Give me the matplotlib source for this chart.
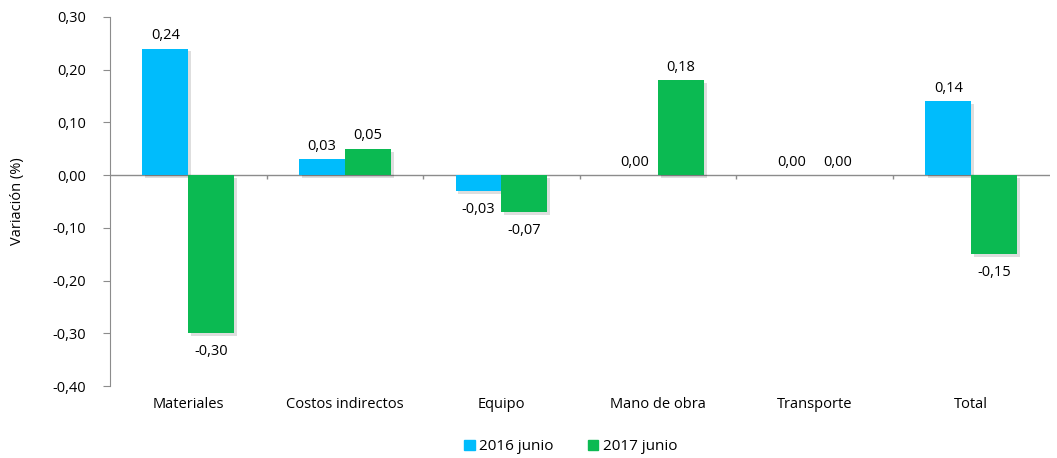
import matplotlib.pyplot as plt
import matplotlib.patheffects as pe
from matplotlib.patches import Patch
import numpy as np

plt.rcParams['font.family'] = ['Open Sans', 'DejaVu Sans']

categories = ['Materiales', 'Costos indirectos', 'Equipo', 'Mano de obra', 'Transporte', 'Total']
junio_2016 = [0.24, 0.03, -0.03, 0.00, 0.00, 0.14]
junio_2017 = [-0.30, 0.05, -0.07, 0.18, 0.00, -0.15]
series_names = ['2016 junio', '2017 junio']
y_ticks = [-0.40, -0.30, -0.20, -0.10, 0.00, 0.10, 0.20, 0.30]

blue = '#00BCFC'
green = '#0BBA52'
grey = '#8C8C8C'


def fmt(v):
    return f'{round(v, 2) + 0.0:.2f}'.replace('.', ',')


fig = plt.figure(figsize=(10.57, 4.58), dpi=100)
ax = fig.add_axes([0.104, 0.157, 0.889, 0.806])

x = np.arange(len(categories))
width = 0.293
shadow = [pe.SimplePatchShadow(offset=(2, -2), shadow_rgbFace='black', alpha=0.13), pe.Normal()]

for values, offset, color in [(junio_2016, -width / 2, blue), (junio_2017, width / 2, green)]:
    bars = ax.bar(x + offset, values, width, color=color, zorder=3)
    for bar, v in zip(bars, values):
        bar.set_path_effects(shadow)
        if v >= 0:
            ax.annotate(fmt(v), (bar.get_x() + bar.get_width() / 2, v), xytext=(0, 4),
                        textcoords='offset points', ha='center', va='bottom', fontsize=10.5)
        else:
            ax.annotate(fmt(v), (bar.get_x() + bar.get_width() / 2, v), xytext=(0, -8),
                        textcoords='offset points', ha='center', va='top', fontsize=10.5)

ax.set_xlim(-0.5, len(categories) - 0.5)
ax.set_ylim(-0.40, 0.30)
ax.set_yticks(y_ticks)
ax.set_yticklabels([fmt(v) for v in y_ticks], fontsize=10.5)
ax.set_xticks(x)
ax.set_xticklabels(categories, fontsize=10.5)
ax.tick_params(axis='x', length=0, pad=8)
ax.tick_params(axis='y', length=5, color=grey, pad=12)

for s in ['top', 'right', 'bottom']:
    ax.spines[s].set_visible(False)
ax.spines['left'].set_color(grey)

ax.axhline(0, color=grey, linewidth=1, zorder=2)
boundaries = np.arange(0.5, len(categories) - 0.5)
ax.vlines(boundaries, -0.008, 0, color=grey, linewidth=1, zorder=2)

ax.set_ylabel('Variación (%)', fontsize=10.5, labelpad=20)

handles = [Patch(color=blue), Patch(color=green)]
fig.legend(handles, series_names, loc='lower center', bbox_to_anchor=(0.54, -0.022), ncol=2,
           frameon=False, handlelength=0.7, handleheight=0.7, handletextpad=0.3,
           columnspacing=2.2, fontsize=11)

fig.savefig('out.png', dpi=100)
